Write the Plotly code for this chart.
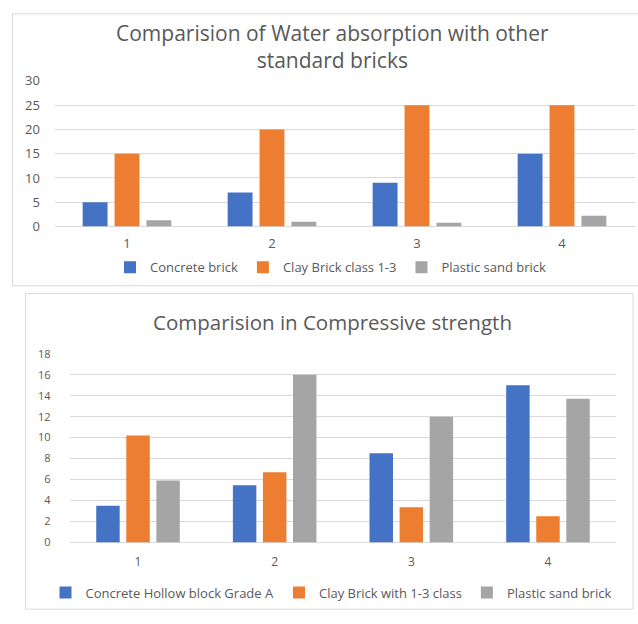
import plotly.graph_objects as go

W, H = 638, 624

categories = ["1", "2", "3", "4"]

# Chart 1: water absorption
wa_concrete = [5, 7, 9, 15]
wa_clay = [15, 20, 25, 25]
wa_plastic = [1.3, 1.0, 0.8, 2.2]
wa_names = ["Concrete brick", "Clay Brick class 1-3", "Plastic sand brick"]
wa_title = "Comparision of Water absorption with other<br>standard bricks"

# Chart 2: compressive strength
cs_concrete = [3.5, 5.45, 8.5, 15]
cs_clay = [10.2, 6.7, 3.35, 2.5]
cs_plastic = [5.9, 16, 12, 13.7]
cs_names = ["Concrete Hollow block Grade A", "Clay Brick with 1-3 class", "Plastic sand brick"]
cs_title = "Comparision in Compressive strength"

colors = ["#4472C4", "#ED7D31", "#A5A5A5"]
TXT = "#595959"
GRID = "#D9D9D9"
FONT = "Open Sans"
CLEAR = "rgba(0,0,0,0)"

def px(x):
    return x / W

def py(y):
    return 1 - y / H

fig = go.Figure()

for vals, name, c in zip([wa_concrete, wa_clay, wa_plastic], wa_names, colors):
    fig.add_trace(go.Bar(x=categories, y=vals, name=name, marker_color=c,
                         marker_line_width=0, xaxis="x", yaxis="y", legend="legend"))

for vals, name, c in zip([cs_concrete, cs_clay, cs_plastic], cs_names, colors):
    fig.add_trace(go.Bar(x=categories, y=vals, name=name, marker_color=c,
                         marker_line_width=0, xaxis="x2", yaxis="y2", legend="legend2"))

def yaxis_style(size, gap):
    return dict(showline=False, ticks="outside", ticklen=gap, tickcolor=CLEAR,
                gridcolor=GRID, gridwidth=1,
                zeroline=True, zerolinecolor=GRID, zerolinewidth=1,
                tickfont=dict(family=FONT, size=size, color=TXT))

def xaxis_style(size, gap):
    return dict(type="category", showgrid=False, showline=False,
                ticks="outside", ticklen=gap, tickcolor=CLEAR,
                tickfont=dict(family=FONT, size=size, color=TXT))

fig.update_layout(
    width=W, height=H,
    margin=dict(l=0, r=0, t=0, b=0),
    paper_bgcolor="white", plot_bgcolor="white",
    barmode="group", bargap=0.34, bargroupgap=0.22,
    font=dict(family=FONT, color=TXT),
    xaxis=dict(domain=[px(54.5), px(634.5)], anchor="y", **xaxis_style(13, 5)),
    yaxis=dict(domain=[py(224), py(74)], anchor="x", range=[0, 30], dtick=5,
               **yaxis_style(13, 11)),
    xaxis2=dict(domain=[px(69.7), px(616.3)], anchor="y2", **xaxis_style(12, 8)),
    yaxis2=dict(domain=[py(549.3), py(355)], anchor="x2", range=[0, 18], dtick=2,
                **yaxis_style(11, 16)),
    legend=dict(orientation="h", x=px(331), y=py(266), xanchor="center", yanchor="middle",
                font=dict(family=FONT, size=13, color=TXT), bgcolor=CLEAR),
    legend2=dict(orientation="h", x=px(331), y=py(601), xanchor="center", yanchor="middle",
                 font=dict(family=FONT, size=13, color=TXT), bgcolor=CLEAR),
    showlegend=True,
)

fig.add_annotation(text=wa_title, x=px(332), y=py(38.2), xref="paper", yref="paper",
                   showarrow=False, xanchor="center", yanchor="middle",
                   font=dict(family=FONT, size=21, color=TXT))
fig.add_annotation(text=cs_title, x=px(332), y=py(322), xref="paper", yref="paper",
                   showarrow=False, xanchor="center", yanchor="middle",
                   font=dict(family=FONT, size=20.5, color=TXT))

# chart area frames
fig.add_shape(type="rect", xref="paper", yref="paper",
              x0=px(12.5), x1=px(645), y0=py(285), y1=py(5),
              line=dict(color=GRID, width=1), fillcolor=CLEAR, layer="below")
fig.add_shape(type="rect", xref="paper", yref="paper",
              x0=px(25.5), x1=px(633), y0=py(618), y1=py(293),
              line=dict(color=GRID, width=1), fillcolor=CLEAR, layer="below")

post = ("document.documentElement.style.margin='0';document.body.style.margin='0';"
        "document.body.style.padding='0';document.body.style.overflow='hidden';"
        "var d=document.querySelector('.plotly-graph-div');"
        "d.style.position='fixed';d.style.top='0px';d.style.left='0px';")

fig.write_html("out.html", config={"displayModeBar": False}, post_script=post)
